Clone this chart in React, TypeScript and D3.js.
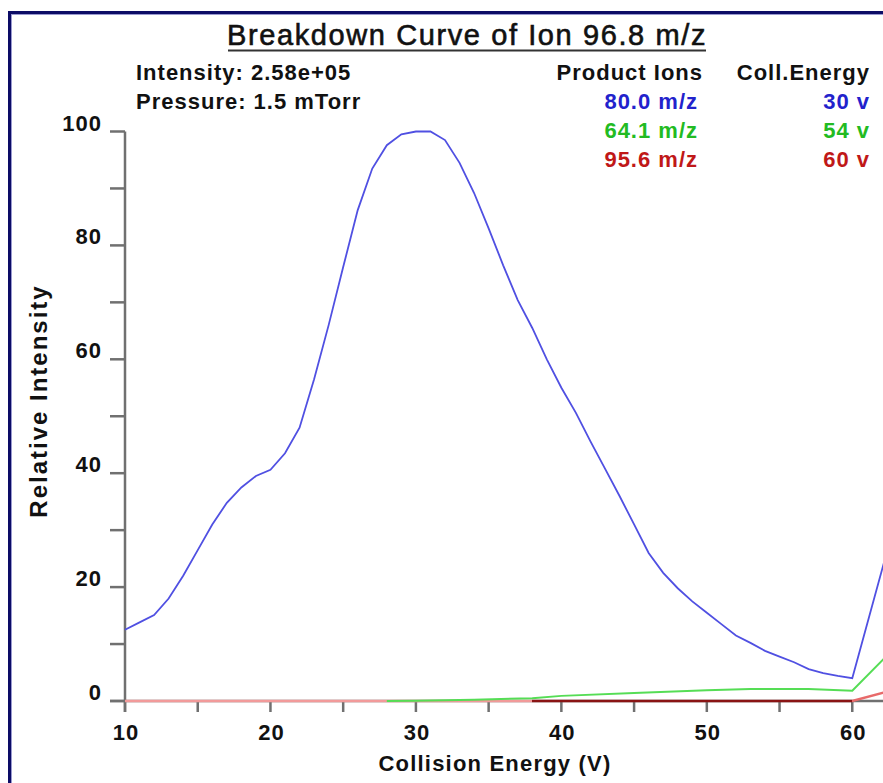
import React from "react";
import * as d3 from "d3";

const W = 883;
const H = 783;

const titleText = "Breakdown Curve of Ion 96.8 m/z";
const infoLines = ["Intensity: 2.58e+05", "Pressure: 1.5 mTorr"];
const ionHeader = "Product Ions";
const energyHeader = "Coll.Energy";
const ionLabels = ["80.0 m/z", "64.1 m/z", "95.6 m/z"];
const optEnergies = ["30 v", "54 v", "60 v"];
const seriesColors = ["#2222cc", "#22bb22", "#c01818"];

const blueEnergy = [10, 11, 12, 13, 14, 15, 16, 17, 18, 19, 20, 21, 22, 23, 24, 25, 26, 27, 28, 29, 30, 31, 32, 33, 34, 35, 36, 37, 38, 39, 40, 41, 42, 43, 44, 45, 46, 47, 48, 49, 50, 51, 52, 53, 54, 55, 56, 57, 58, 59, 60, 62.2];
const blueValues = [12.5, 13.8, 15.1, 18.0, 22.0, 26.5, 31.0, 34.8, 37.5, 39.5, 40.6, 43.5, 48.0, 56.5, 66.0, 76.2, 86.2, 93.5, 97.6, 99.5, 100.0, 100.0, 98.5, 94.5, 89.2, 83.0, 76.5, 70.4, 65.5, 60.0, 55.0, 50.6, 45.6, 40.8, 36.0, 31.0, 26.0, 22.5, 19.8, 17.5, 15.5, 13.5, 11.5, 10.2, 8.8, 7.8, 6.8, 5.6, 4.9, 4.4, 4.0, 24.5];

const greenEnergy = [28, 30, 34, 38, 40, 45, 50, 53, 57, 60, 62.2];
const greenValues = [0, 0.05, 0.2, 0.5, 0.9, 1.4, 1.9, 2.1, 2.1, 1.8, 7.5];

const redEnergy = [10, 38, 60, 62.2];
const redValues = [0, 0, 0, 1.5];

const xTicks = [10, 15, 20, 25, 30, 35, 40, 45, 50, 55, 60, 65];
const xTickLabels = [10, 20, 30, 40, 50, 60];
const yTicks = [0, 10, 20, 30, 40, 50, 60, 70, 80, 90, 100];
const yTickLabels = [0, 20, 40, 60, 80, 100];

const FONT = "'Liberation Sans', Arial, sans-serif";

export default function App() {
  const x = d3.scaleLinear().domain([10, 65]).range([125, 925]);
  const y = d3.scaleLinear().domain([0, 100]).range([701, 131.5]);

  const line = d3
    .line<[number, number]>()
    .x((d) => x(d[0]))
    .y((d) => y(d[1]))
    .curve(d3.curveLinear);

  const bluePts = blueEnergy.map((e, i) => [e, blueValues[i]] as [number, number]);
  const greenPts = greenEnergy.map((e, i) => [e, greenValues[i]] as [number, number]);
  const redPts = redEnergy.map((e, i) => [e, redValues[i]] as [number, number]);

  const x0 = x(10);
  const x1 = x(62.2);
  const off = (v: number) => (x(v) - x0) / (x1 - x0);

  const bold = { fontFamily: FONT, fontWeight: 700, fontSize: 22, letterSpacing: 1 } as const;

  return (
    <svg
      width={W}
      height={H}
      style={{ position: "absolute", left: 0, top: 0, background: "#fff" }}
    >
      <defs>
        <linearGradient id="redGrad" gradientUnits="userSpaceOnUse" x1={x0} x2={x1} y1={0} y2={0}>
          <stop offset={0} stopColor="#f29a9a" />
          <stop offset={off(38)} stopColor="#f29a9a" />
          <stop offset={off(38)} stopColor="#8a1414" />
          <stop offset={off(60)} stopColor="#8a1414" />
          <stop offset={off(60)} stopColor="#e86a6a" />
          <stop offset={1} stopColor="#e86a6a" />
        </linearGradient>
      </defs>
      <rect x={0} y={0} width={W} height={H} fill="#fff" />
      {/* frame */}
      <line x1={8} x2={W} y1={12.5} y2={12.5} stroke="#0c0c66" strokeWidth={3} />
      <line x1={8} x2={W} y1={14.5} y2={14.5} stroke="#9a9ad0" strokeWidth={1} />
      <line x1={9.5} x2={9.5} y1={11} y2={H} stroke="#0c0c66" strokeWidth={3} />
      <line x1={11.5} x2={11.5} y1={14} y2={H} stroke="#9a9ad0" strokeWidth={1} />

      {/* title */}
      <text
        x={467}
        y={45}
        textAnchor="middle"
        stroke="#111"
        strokeWidth={0.6}
        style={{ fontFamily: FONT, fontSize: 29, letterSpacing: 1.6, fontWeight: 400 }}
        fill="#111"
      >
        {titleText}
      </text>
      <line x1={228} x2={706} y1={50.5} y2={50.5} stroke="#333" strokeWidth={2} />

      {infoLines.map((t, i) => (
        <text key={t} x={136} y={80 + i * 29} style={bold} fill="#111">
          {t}
        </text>
      ))}
      <text x={703} y={80} textAnchor="end" style={bold} fill="#111">
        {ionHeader}
      </text>
      <text x={870} y={80} textAnchor="end" style={bold} fill="#111">
        {energyHeader}
      </text>
      {ionLabels.map((t, i) => (
        <text key={t} x={698} y={109 + i * 29} textAnchor="end" style={bold} fill={seriesColors[i]}>
          {t}
        </text>
      ))}
      {optEnergies.map((t, i) => (
        <text key={t} x={870} y={109 + i * 29} textAnchor="end" style={bold} fill={seriesColors[i]}>
          {t}
        </text>
      ))}

      {/* axes */}
      <line x1={x(10)} x2={x(10)} y1={y(100)} y2={y(0) + 11} stroke="#707070" strokeWidth={2.5} />
      <line x1={110} x2={W} y1={y(0)} y2={y(0)} stroke="#707070" strokeWidth={2.5} />
      {yTicks.map((t) => (
        <line key={t} x1={110} x2={x(10)} y1={y(t)} y2={y(t)} stroke="#707070" strokeWidth={2.5} />
      ))}
      {xTicks.map((t) => (
        <line key={t} x1={x(t)} x2={x(t)} y1={y(0)} y2={y(0) + 11} stroke="#707070" strokeWidth={2.5} />
      ))}
      {yTickLabels.map((t) => (
        <text key={t} x={102} y={y(t) - 1} textAnchor="end" style={bold} fill="#111">
          {t}
        </text>
      ))}
      {xTickLabels.map((t) => (
        <text key={t} x={x(t) + 1} y={740} textAnchor="middle" style={bold} fill="#111">
          {t}
        </text>
      ))}

      <text
        x={495}
        y={771}
        textAnchor="middle"
        style={{ fontFamily: FONT, fontWeight: 700, fontSize: 22, letterSpacing: 1.2 }}
        fill="#111"
      >
        Collision Energy (V)
      </text>
      <text
        transform={`translate(47,401) rotate(-90)`}
        textAnchor="middle"
        style={{ fontFamily: FONT, fontWeight: 700, fontSize: 24, letterSpacing: 2 }}
        fill="#111"
      >
        Relative Intensity
      </text>

      {/* series */}
      <path d={line(redPts) || ""} fill="none" stroke="url(#redGrad)" strokeWidth={2.5} />
      <path d={line(greenPts) || ""} fill="none" stroke="#55dd55" strokeWidth={2} />
      <path d={line(bluePts) || ""} fill="none" stroke="#5050e2" strokeWidth={1.8} />
    </svg>
  );
}
